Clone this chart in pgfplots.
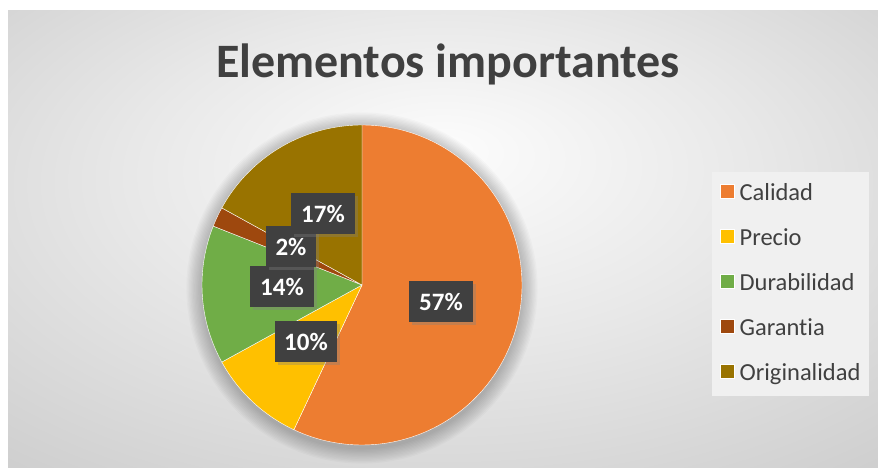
\documentclass[border=0pt]{standalone}
\usepackage{pgfplots}
\pgfplotsset{compat=1.18}
\usepackage{pgfplotstable}
\usepackage{fontspec}
\setmainfont{Carlito}[Ligatures=CommonOff]
\usetikzlibrary{shadows}
\definecolor{cCal}{HTML}{ED7D31}
\definecolor{cPre}{HTML}{FFC000}
\definecolor{cDur}{HTML}{70AD47}
\definecolor{cGar}{HTML}{9E480E}
\definecolor{cOri}{HTML}{997300}
\definecolor{lblbg}{HTML}{404040}
\pgfdeclareradialshading{bgshade}{\pgfpoint{0bp}{10bp}}{color(0bp)=(black!1); color(18bp)=(black!9); color(40bp)=(black!20); color(60bp)=(black!24)}
\tikzset{lbl/.style={fill=lblbg, text=white, font=\bfseries\fontsize{25}{30}\selectfont,
    minimum height=41pt, inner sep=0pt,
    drop shadow={shadow xshift=3pt, shadow yshift=-3pt, opacity=0.35}}}

\pgfplotstableread{
cat val
Calidad 57
Precio 10
Durabilidad 14
Garantia 2
Originalidad 17
}\piedata

\pgfplotstablegetelem{0}{val}\of\piedata \edef\vA{\pgfplotsretval}
\pgfplotstablegetelem{1}{val}\of\piedata \edef\vB{\pgfplotsretval}
\pgfplotstablegetelem{2}{val}\of\piedata \edef\vC{\pgfplotsretval}
\pgfplotstablegetelem{3}{val}\of\piedata \edef\vD{\pgfplotsretval}
\pgfplotstablegetelem{4}{val}\of\piedata \edef\vE{\pgfplotsretval}
\pgfmathsetmacro\aA{0}
\pgfmathsetmacro\aB{\aA+3.6*\vA}
\pgfmathsetmacro\aC{\aB+3.6*\vB}
\pgfmathsetmacro\aD{\aC+3.6*\vC}
\pgfmathsetmacro\aE{\aD+3.6*\vD}
\pgfmathsetmacro\aF{\aE+3.6*\vE}

\begin{document}
\begin{tikzpicture}[x=1pt,y=1pt]
\useasboundingbox (0,0) rectangle (878,468);
\fill[white] (0,0) rectangle (878,468);
\shade[shading=bgshade] (8,0) rectangle (878,457);
\foreach \k in {1,...,12} \fill[black, opacity=0.02] (362,180) circle ({160+\k*1.3});
\begin{axis}[
  x=1pt, y=1pt, xmin=0, xmax=878, ymin=0, ymax=468,
  scale only axis, hide axis, clip=false,
  at={(0,0)}, anchor=south west,
  legend style={at={(axis cs:712,296)}, anchor=north west,
    fill=black!6, draw=none, font=\fontsize{24.5}{29}\selectfont,
    text=black!75, row sep=21pt, inner xsep=8pt, inner ysep=10pt,
    nodes={inner sep=1pt, text height=17pt, text depth=5pt},
    /tikz/every odd column/.append style={column sep=4pt}},
  legend cell align=left,
  legend image code/.code={\fill[#1] (0pt,-4pt) rectangle (14pt,10pt);},
]
\addplot[fill=cCal, draw=white, line width=0.4pt, domain=\aA:\aB, samples=120, variable=\t]
  ({362+160*sin(\t)},{183+160*cos(\t)}) -- (axis cs:362,183) -- cycle;
\addlegendentry{Calidad}
\addplot[fill=cPre, draw=white, line width=0.4pt, domain=\aB:\aC, samples=40, variable=\t]
  ({362+160*sin(\t)},{183+160*cos(\t)}) -- (axis cs:362,183) -- cycle;
\addlegendentry{Precio}
\addplot[fill=cDur, draw=white, line width=0.4pt, domain=\aC:\aD, samples=40, variable=\t]
  ({362+160*sin(\t)},{183+160*cos(\t)}) -- (axis cs:362,183) -- cycle;
\addlegendentry{Durabilidad}
\addplot[fill=cGar, draw=white, line width=0.4pt, domain=\aD:\aE, samples=10, variable=\t]
  ({362+160*sin(\t)},{183+160*cos(\t)}) -- (axis cs:362,183) -- cycle;
\addlegendentry{Garantia}
\addplot[fill=cOri, draw=white, line width=0.4pt, domain=\aE:\aF, samples=50, variable=\t]
  ({362+160*sin(\t)},{183+160*cos(\t)}) -- (axis cs:362,183) -- cycle;
\addlegendentry{Originalidad}
\node[lbl, minimum width=64pt] at (axis cs:441,166) {57\%};
\node[lbl, minimum width=62pt] at (axis cs:306,126) {10\%};
\node[lbl, minimum width=64pt] at (axis cs:282,181) {14\%};
\node[lbl, minimum width=50pt] at (axis cs:291,221) {2\%};
\node[lbl, minimum width=64pt] at (axis cs:323,254) {17\%};
\end{axis}
\node[anchor=base, font=\bfseries\fontsize{48}{56}\selectfont, text=black!75] at (448,390) {Elementos importantes};
\end{tikzpicture}
\end{document}
